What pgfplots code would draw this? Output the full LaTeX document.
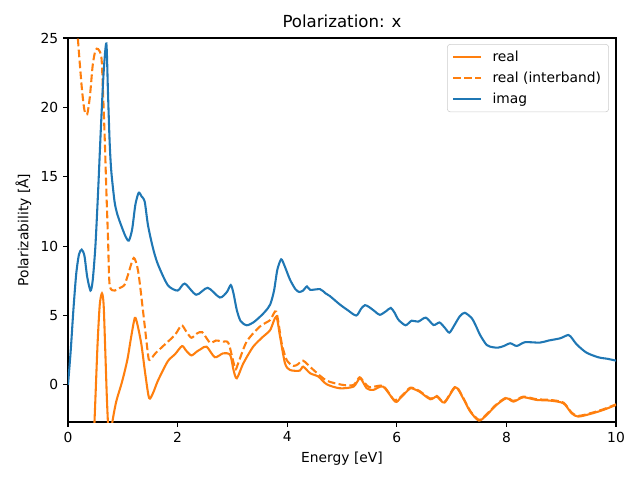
\documentclass[border=0pt]{standalone}
\usepackage{pgfplots}
\pgfplotsset{compat=1.18}
\usepackage{fontspec}
\setmainfont{DejaVu Sans}
\definecolor{mplorange}{HTML}{FF7F0E}
\definecolor{mplblue}{HTML}{1F77B4}
\begin{document}
\begin{tikzpicture}
\begin{axis}[
  name=ax,
  scale only axis,
  width=5.48in, height=3.84in,
  xmin=0, xmax=10, ymin=-2.67, ymax=25,
  xtick={0,2,4,6,8,10}, ytick={0,5,10,15,20,25},
  tick align=outside, tick pos=left,
  major tick length=3.5pt,
  every tick/.style={black, line width=0.8pt},
  axis line style={line width=0.8pt},
  tick label style={font=\fontsize{10}{12}\selectfont},
  /pgf/number format/assume math mode=true,
  xlabel={Energy [eV]}, ylabel={Polarizability [Å]},
  label style={font=\fontsize{10}{12}\selectfont},
  title={Polarization: x},
  title style={font=\fontsize{12}{14}\selectfont, yshift=-2pt},
  legend cell align=left,
  legend style={at={(rel axis cs:0.987,0.984)}, anchor=north east,
    draw=black!20, rounded corners=2pt, fill=white, fill opacity=0.8, text opacity=1,
    font=\fontsize{10}{12}\selectfont, row sep=2.2pt, inner xsep=3.5pt, inner ysep=2.5pt},
  legend image code/.code={\draw[#1] (0cm,0cm) -- (0.7cm,0cm); \path (0.9cm,0cm);},
  clip=true,
]
\addplot[mplorange, line width=1.5pt, smooth, tension=0.45] coordinates {
(0.46,-5) (0.5,-1) (0.54,3) (0.58,5.8) (0.62,6.6) (0.65,5.8) (0.68,2.5) (0.71,-1.0) (0.74,-3.5) (0.77,-4.2)
(0.81,-2.67) (0.88,-1.2) (0.97,0.0) (1.03,0.9) (1.09,1.95) (1.15,3.4) (1.22,4.83) (1.27,4.3) (1.34,2.9) (1.41,0.8)
(1.48,-0.94) (1.55,-0.6) (1.64,0.3) (1.82,1.7) (1.95,2.2) (2.08,2.8) (2.15,2.5) (2.25,2.13) (2.35,2.4) (2.43,2.6)
(2.53,2.76) (2.68,2.0) (2.83,2.28) (2.96,2.16) (3.02,1.08) (3.08,0.48) (3.2,1.56) (3.38,2.76) (3.56,3.48) (3.69,3.96)
(3.8,4.92) (3.87,3.48) (3.96,1.56) (4.05,1.08) (4.23,1.03) (4.29,1.32) (4.42,0.84) (4.57,0.6) (4.72,0.05) (4.96,-0.24)
(5.21,-0.12) (5.33,0.48) (5.45,-0.24) (5.57,-0.36) (5.75,-0.12) (5.97,-1.2) (6.06,-0.96) (6.21,-0.36) (6.27,-0.24) (6.42,-0.5)
(6.61,-1.03) (6.73,-0.84) (6.87,-1.27) (7.07,-0.17) (7.21,-0.96) (7.34,-1.92) (7.50,-2.57) (7.64,-2.16) (7.82,-1.44) (8.0,-0.96)
(8.13,-1.2) (8.31,-0.89) (8.55,-1.08) (8.80,-1.13) (9.04,-1.32) (9.19,-2.04) (9.31,-2.28) (9.53,-2.09) (9.77,-1.8) (10,-1.44)
};
\addlegendentry{real}
\addplot[mplorange, line width=1.5pt, dash pattern=on 5.55pt off 2.4pt, smooth, tension=0.45] coordinates {
(0.02,40) (0.1,30) (0.18,25) (0.25,21.5) (0.3,19.8) (0.35,19.5) (0.4,20.8) (0.45,23) (0.5,24.1) (0.55,24.2)
(0.61,23.6) (0.64,21) (0.67,17.8) (0.7,14) (0.73,10.6) (0.76,7.2) (0.85,6.8) (0.95,7.0) (1.03,7.2) (1.1,8.0)
(1.2,9.15) (1.28,8.2) (1.37,5.3) (1.46,2.2) (1.49,1.8) (1.6,2.3) (1.70,2.67) (1.95,3.6) (2.07,4.3) (2.15,3.9)
(2.25,3.4) (2.35,3.7) (2.45,3.8) (2.59,3.05) (2.7,3.2) (2.83,3.12) (2.93,3.0) (3.05,1.2) (3.1,1.5) (3.26,3.12)
(3.5,4.2) (3.69,4.68) (3.8,5.28) (3.9,3.0) (3.99,1.8) (4.11,1.37) (4.2,1.5) (4.29,1.75) (4.48,1.08) (4.72,0.31)
(5.02,0.0) (5.21,0.0) (5.32,0.55) (5.4,0.2) (5.51,-0.17) (5.75,-0.07) (5.95,-1.08) (6.06,-0.9) (6.21,-0.3) (6.27,-0.19) (6.42,-0.45)
(6.61,-0.98) (6.73,-0.79) (6.87,-1.22) (7.07,-0.12) (7.21,-0.91) (7.34,-1.87) (7.50,-2.52) (7.64,-2.11) (7.82,-1.39) (8.0,-0.91)
(8.13,-1.15) (8.31,-0.84) (8.55,-1.03) (8.80,-1.08) (9.04,-1.27) (9.19,-1.99) (9.31,-2.23) (9.53,-2.04) (9.77,-1.75) (10,-1.4)
};
\addlegendentry{real (interband)}
\addplot[mplblue, line width=1.5pt, smooth, tension=0.45] coordinates {
(0,0) (0.05,2.5) (0.1,5.5) (0.15,8.0) (0.2,9.4) (0.25,9.75) (0.3,9.3) (0.35,7.8) (0.41,6.8) (0.45,7.5)
(0.5,10) (0.55,14) (0.6,18.5) (0.65,22.5) (0.70,24.6) (0.73,21) (0.76,17.5) (0.79,15.4) (0.85,13.2) (0.9,12.3)
(0.97,11.5) (1.05,10.7) (1.11,10.4) (1.17,11.2) (1.23,13.0) (1.29,13.85) (1.34,13.6) (1.40,13.2) (1.46,11.5) (1.55,9.87)
(1.64,8.7) (1.82,7.2) (2.0,6.8) (2.13,7.3) (2.34,6.5) (2.55,7.0) (2.77,6.3) (2.9,6.7) (2.97,7.2) (3.02,6.6)
(3.08,5.4) (3.15,4.6) (3.26,4.3) (3.38,4.5) (3.50,4.9) (3.6,5.3) (3.69,5.8) (3.76,6.8) (3.82,8.3) (3.89,9.05)
(3.95,8.6) (4.05,7.6) (4.15,6.9) (4.22,6.7) (4.29,6.8) (4.36,7.1) (4.42,6.85) (4.60,6.9) (4.7,6.6) (4.78,6.4)
(4.96,5.8) (5.1,5.4) (5.26,5.0) (5.35,5.5) (5.42,5.75) (5.5,5.6) (5.6,5.3) (5.69,5.05) (5.8,5.3) (5.89,5.55)
(5.96,5.2) (6.03,4.7) (6.16,4.3) (6.27,4.63) (6.39,4.56) (6.53,4.85) (6.67,4.32) (6.78,4.5) (6.88,4.1) (6.96,3.77)
(7.05,4.3) (7.15,4.95) (7.24,5.2) (7.37,4.8) (7.45,4.2) (7.52,3.6) (7.64,2.88) (7.75,2.72) (7.85,2.69) (7.95,2.8)
(8.07,3.0) (8.19,2.81) (8.34,3.08) (8.61,3.05) (8.77,3.2) (8.98,3.36) (9.13,3.6) (9.2,3.35) (9.28,2.93) (9.46,2.33)
(9.68,1.99) (9.85,1.88) (10,1.75)
};
\addlegendentry{imag}
\end{axis}
\pgfresetboundingbox
\path[use as bounding box] ([shift={(-0.68in,-0.58in)}]ax.south west) rectangle ([shift={(0.24in,0.38in)}]ax.north east);
\end{tikzpicture}
\end{document}
